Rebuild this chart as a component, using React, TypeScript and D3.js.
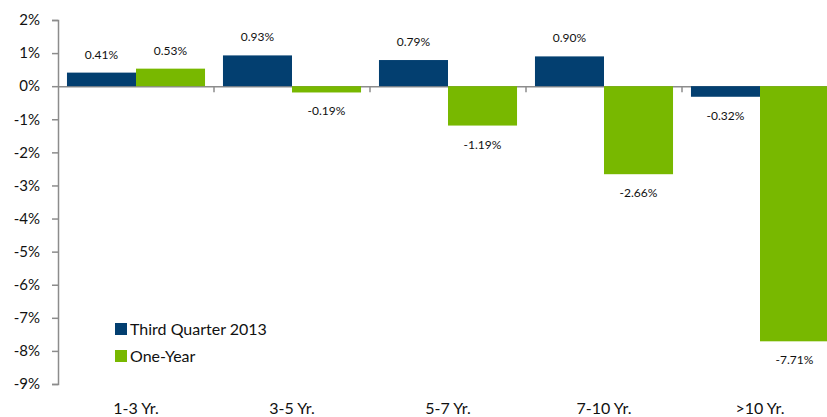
import { useRef, useEffect } from 'react';
import * as d3 from 'd3';

const categories = ['1-3 Yr.', '3-5 Yr.', '5-7 Yr.', '7-10 Yr.', '>10 Yr.'];
const seriesNames = ['Third Quarter 2013', 'One-Year'];
const thirdQuarter = [0.41, 0.93, 0.79, 0.9, -0.32];
const oneYear = [0.53, -0.19, -1.19, -2.66, -7.71];
const yTicks = [2, 1, 0, -1, -2, -3, -4, -5, -6, -7, -8, -9];
const colors = ['#033f70', '#78b800'];

const App = () => {
  const svgRef = useRef(null);
  const width = 827;
  const height = 417;

  useEffect(() => {
    const svg = d3.select(svgRef.current);
    svg.selectAll('*').remove();
    const font = 'Lato, "Open Sans", sans-serif';

    const x = d3.scaleBand().domain(categories).range([58, 838]);
    const inner = d3
      .scaleBand()
      .domain(seriesNames)
      .range([0, x.bandwidth()])
      .paddingOuter(0.13);
    const y = d3.scaleLinear().domain([-9, 2]).range([384, 20]);

    // y axis
    const yAxis = svg
      .append('g')
      .attr('transform', 'translate(58,0)')
      .call(
        d3
          .axisLeft(y)
          .tickValues(yTicks)
          .tickSize(6)
          .tickPadding(12)
          .tickFormat(d => d + '%')
      );
    yAxis.select('.domain').attr('stroke', '#8c8c8c').attr('stroke-width', 1.5);
    yAxis.selectAll('.tick line').attr('stroke', '#8c8c8c').attr('stroke-width', 1.5);
    yAxis
      .selectAll('.tick text')
      .attr('fill', '#111')
      .style('font-family', font)
      .style('font-size', '15px');

    // zero line with category ticks
    const xAxis = svg
      .append('g')
      .attr('transform', `translate(0,${y(0)})`)
      .call(
        d3
          .axisBottom(x)
          .tickValues([])
          .tickSizeOuter(0)
      );
    xAxis.select('.domain').attr('stroke', '#8c8c8c').attr('stroke-width', 1.5);
    xAxis
      .selectAll('line.sep')
      .data(categories.slice(1))
      .enter()
      .append('line')
      .attr('class', 'sep')
      .attr('x1', d => x(d))
      .attr('x2', d => x(d))
      .attr('y1', 0)
      .attr('y2', 6)
      .attr('stroke', '#8c8c8c')
      .attr('stroke-width', 1.5);

    // category labels
    svg
      .selectAll('text.cat')
      .data(categories)
      .enter()
      .append('text')
      .attr('class', 'cat')
      .attr('x', d => x(d) + x.bandwidth() / 2)
      .attr('y', 414)
      .attr('text-anchor', 'middle')
      .style('font-family', font)
      .style('font-size', '16px')
      .attr('fill', '#111')
      .text(d => d);

    const data = [thirdQuarter, oneYear];
    data.forEach((values, si) => {
      const g = svg.append('g').attr('fill', colors[si]);
      g.selectAll('rect')
        .data(values)
        .enter()
        .append('rect')
        .attr('x', (d, i) => x(categories[i]) + inner(seriesNames[si]))
        .attr('width', inner.bandwidth())
        .attr('y', d => y(Math.max(0, d)))
        .attr('height', d => Math.abs(y(d) - y(0)));

      svg
        .append('g')
        .selectAll('text')
        .data(values)
        .enter()
        .append('text')
        .attr('x', (d, i) => x(categories[i]) + inner(seriesNames[si]) + inner.bandwidth() / 2)
        .attr('y', d => (d >= 0 ? y(d) - 14 : y(d) + 23))
        .attr('text-anchor', 'middle')
        .style('font-family', font)
        .style('font-size', '12px')
        .attr('fill', '#111')
        .text(d => d.toFixed(2) + '%');
    });

    // legend
    const legend = svg.append('g').attr('transform', 'translate(115, 323)');
    legend
      .selectAll('rect')
      .data(seriesNames)
      .enter()
      .append('rect')
      .attr('x', 0)
      .attr('y', (d, i) => i * 27)
      .attr('width', 12)
      .attr('height', 12)
      .attr('fill', (d, i) => colors[i]);
    legend
      .selectAll('text')
      .data(seriesNames)
      .enter()
      .append('text')
      .attr('x', 15)
      .attr('y', (d, i) => i * 27 + 12)
      .style('font-family', font)
      .style('font-size', '16px')
      .attr('fill', '#111')
      .text(d => d);
  }, []);

  return (
    <svg
      ref={svgRef}
      width={width}
      height={height}
      style={{ position: 'absolute', left: 0, top: 0, background: '#fff' }}
    />
  );
};

export default App;
